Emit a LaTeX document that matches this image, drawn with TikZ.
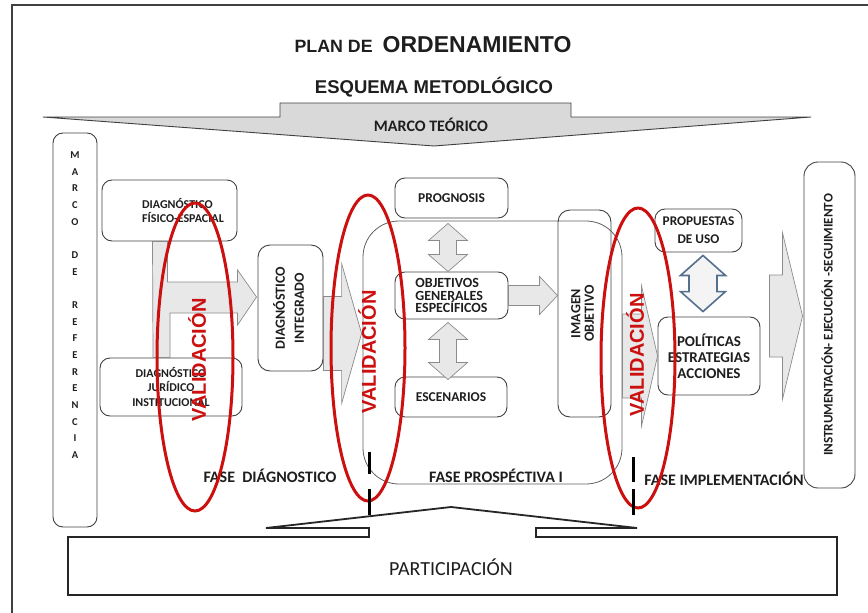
\documentclass[tikz,border=0pt]{standalone}
\usepackage{fontspec}
\usepackage{graphicx}
\usetikzlibrary{calc}
\setmainfont{Carlito}
\newfontfamily\arialfont{Liberation Sans}
\definecolor{plan-line}{RGB}{64,64,64}
\definecolor{plan-grey}{RGB}{96,96,96}
\definecolor{plan-text}{RGB}{30,30,30}
\definecolor{plan-red}{RGB}{204,16,16}
\definecolor{plan-marco}{RGB}{217,217,217}
\definecolor{plan-arrow}{RGB}{232,232,232}
\definecolor{plan-arrowline}{RGB}{140,140,140}
\definecolor{plan-steel}{RGB}{84,112,142}
\definecolor{plan-pale}{RGB}{244,244,244}

\tikzset{
  box/.style={draw=plan-line, line width=0.9pt, rounded corners=10pt, align=center,
    inner sep=2pt, text=plan-text, font=\bfseries\fontsize{13.5}{16}\selectfont},
  region/.style={draw=plan-grey, line width=0.8pt, rounded corners=36pt},
  blockarrow/.style={draw=plan-arrowline, line width=0.7pt, fill=plan-arrow},
  steelarrow/.style={draw=plan-steel, line width=1.6pt, fill=plan-pale},
  valring/.style={draw=plan-red, line width=3pt},
  valtext/.style={rotate=90, inner sep=0pt, text=plan-red,
    font=\arialfont\bfseries\fontsize{20}{24}\selectfont},
  phase/.style={inner sep=0pt, text=plan-text, font=\bfseries\fontsize{16}{19}\selectfont},
  sepmark/.style={line width=3pt, black},
  marco/.style={draw=plan-line, line width=0.9pt, fill=plan-marco},
  partic/.style={draw=black!85, line width=1.8pt, fill=white},
}

\newcommand{\vtext}[1]{\rotatebox{90}{\begin{tabular}{@{}c@{}}#1\end{tabular}}}
\newcommand{\hblock}[6][blockarrow]{%
  \draw[#1] let \p1=#2, \p2=#3 in
    (\x1,\y2+#4pt) -- (\x2-#6pt,\y2+#4pt) -- (\x2-#6pt,\y2+#5pt) -- (\x2,\y2)
    -- (\x2-#6pt,\y2-#5pt) -- (\x2-#6pt,\y2-#4pt) -- (\x1,\y2-#4pt) -- cycle;}
\newcommand{\vdouble}[6][blockarrow]{%
  \draw[#1] let \p1=#2, \p2=#3 in
    (\x1,\y1) -- (\x1+#5pt,\y1-#6pt) -- (\x1+#4pt,\y1-#6pt)
    -- (\x1+#4pt,\y2+#6pt) -- (\x1+#5pt,\y2+#6pt) -- (\x1,\y2)
    -- (\x1-#5pt,\y2+#6pt) -- (\x1-#4pt,\y2+#6pt)
    -- (\x1-#4pt,\y1-#6pt) -- (\x1-#5pt,\y1-#6pt) -- cycle;}

\begin{document}
\begin{tikzpicture}[x=1pt, y=-1pt]
    \useasboundingbox (0,0) rectangle (868,613);
    \draw[plan-line, line width=1.2pt] (12,613) -- (12,5) -- (868,5);

    \node[anchor=base, text=plan-text] (title) at (433,52)
        {\arialfont\bfseries\fontsize{17.8}{22}\selectfont PLAN DE\hspace{10pt}\fontsize{23}{26}\selectfont ORDENAMIENTO};
    \node[anchor=base, text=plan-text, font=\arialfont\bfseries\fontsize{18.5}{22}\selectfont]
        (esquema) at (434,93) {ESQUEMA METODLÓGICO};

    \filldraw[marco] (43,117) -- (280,117) -- (280,103) -- (571,103) -- (571,117)
        -- (811,117) -- (434,146) -- cycle;
    \node[text=plan-text, font=\bfseries\fontsize{16}{18}\selectfont] (teorico) at (431,125) {MARCO TEÓRICO};

    \node[box, minimum width=44pt, minimum height=394pt] (refbox) at (75,330) {};
    \node[align=center, text=plan-text, font=\bfseries\fontsize{10.5}{16.67}\selectfont]
        (reftext) at (75,305) {M\\A\\R\\C\\O\\~\\D\\E\\~\\R\\E\\F\\E\\R\\E\\N\\C\\I\\A};

    \node[region, minimum width=259pt, minimum height=263pt] (prosp) at (492.5,352.5) {};

    \node[box, minimum width=135pt, minimum height=61pt] (fisico) at (169.5,210.5) {};
    \node[align=left, text=plan-text, font=\bfseries\fontsize{12}{14}\selectfont]
        (fisico-txt) at (183,210) {DIAGNÓSTICO\\FÍSICO-ESPACIAL};
    \node[box, minimum width=142pt, minimum height=58pt, font=\bfseries\fontsize{12}{14.5}\selectfont]
        (jurid) at (171,387) {DIAGNÓSTICO\\JURÍDICO\\INSTITUCIONAL};
    \node[box, minimum width=65pt, minimum height=126pt, rounded corners=12pt,
        font=\bfseries\fontsize{14}{19}\selectfont] (integ) at (290.5,308) {\vtext{DIAGNÓSTICO\\INTEGRADO}};
    \node[box, minimum width=113pt, minimum height=40pt] (progn) at (451.5,198) {PROGNOSIS};
    \node[box, minimum width=113pt, minimum height=47pt, align=left,
        font=\bfseries\fontsize{14}{12.5}\selectfont] (objet) at (451.5,295.5) {OBJETIVOS\\GENERALES\\ESPECÍFICOS};
    \node[box, minimum width=112pt, minimum height=40pt] (escen) at (451,397) {ESCENARIOS};
    \node[box, minimum width=53pt, minimum height=207pt, rounded corners=12pt,
        font=\bfseries\fontsize{14}{13.5}\selectfont] (imagen) at (584.5,313.5) {\vtext{IMAGEN\\OBJETIVO}};
    \node[box, minimum width=87pt, minimum height=43pt, font=\bfseries\fontsize{13.3}{18}\selectfont]
        (propu) at (698.5,230.5) {PROPUESTAS\\DE USO};
    \node[box, minimum width=102pt, minimum height=78pt, font=\bfseries\fontsize{15}{16}\selectfont]
        (polit) at (709,356) {POLÍTICAS\\ESTRATEGIAS\\ACCIONES};
    \node[box, minimum width=51pt, minimum height=326pt, rounded corners=14pt,
        font=\bfseries\fontsize{13.2}{16}\selectfont] (instr) at (829.5,325)
        {\vtext{INSTRUMENTACIÓN- EJECUCIÓN -SEGUIMIENTO}};

    \coordinate (tipA) at ($(integ.west)+(-1,-11)$);
    \draw[blockarrow] ($(fisico.south)+(-17,0)$) -- ($(fisico.south)+(-2,0)$)
        |- ($(tipA)+(-19,-15)$) -- ++(0,-12) -- (tipA) -- ++(-19,28) -- ++(0,-12)
        -| ($(jurid.north)+(-1,0)$) -- ++(-17,0) -- cycle;
    \coordinate (tipB) at ($(prosp.west)+(-1,-19)$);
    \hblock{(integ.east)}{(tipB)}{37}{70}{20}
    \hblock{(objet.east)}{(imagen.west |- objet.east)}{10}{19}{18}
    \hblock{(prosp.east)}{(polit.west)}{42}{70}{16}
    \coordinate (tipD) at ($(instr.west)+(-1,-9)$);
    \hblock{($(polit.east)+(9,0)$)}{(tipD)}{41}{83}{20}

    \vdouble{($(progn.south)+(-3.5,5)$)}{($(objet.north)+(-3.5,0)$)}{8.5}{19.5}{17}
    \vdouble{($(objet.south)+(-3.5,3)$)}{($(escen.north)+(-3,3)$)}{8.5}{19.5}{17}
    \vdouble[steelarrow]{($(propu.south)+(4.5,3)$)}{($(polit.north)+(-6,-5)$)}{14}{22.5}{20}

    \node[phase] (fase1) at (270,476) {FASE\ \ DIÁGNOSTICO};
    \node[phase] (fase2) at (496,476) {FASE PROSPÉCTIVA I};
    \node[phase] (fase3) at (724,479) {FASE IMPLEMENTACIÓN};

    \draw[partic] (68,537) -- (369,537) -- (369,528) -- (266,528) -- (451,507) -- (637,528)
        -- (536,528) -- (536,537) -- (837,537) -- (837,595) -- (68,595) -- cycle;
    \node[text=plan-text, font=\fontsize{20}{24}\selectfont] (particip) at (451,567) {PARTICIPACIÓN};

    \node[valtext] (val1) at (197,360) {VALIDACIÓN};
    \node[valtext] (val2) at (367,352) {VALIDACIÓN};
    \node[valtext] (val3) at (635,355) {VALIDACIÓN};
    \draw[valring] (195,357) ellipse (38pt and 154pt);
    \draw[valring] (368,348) ellipse (37pt and 153pt);
    \draw[valring] (638,358) ellipse (37pt and 150pt);

    \draw[sepmark] (369,452) -- (369,474) (369,489) -- (369,515);
    \draw[sepmark] (633,457) -- (633,482) (633,489) -- (633,515);
\end{tikzpicture}
\end{document}
